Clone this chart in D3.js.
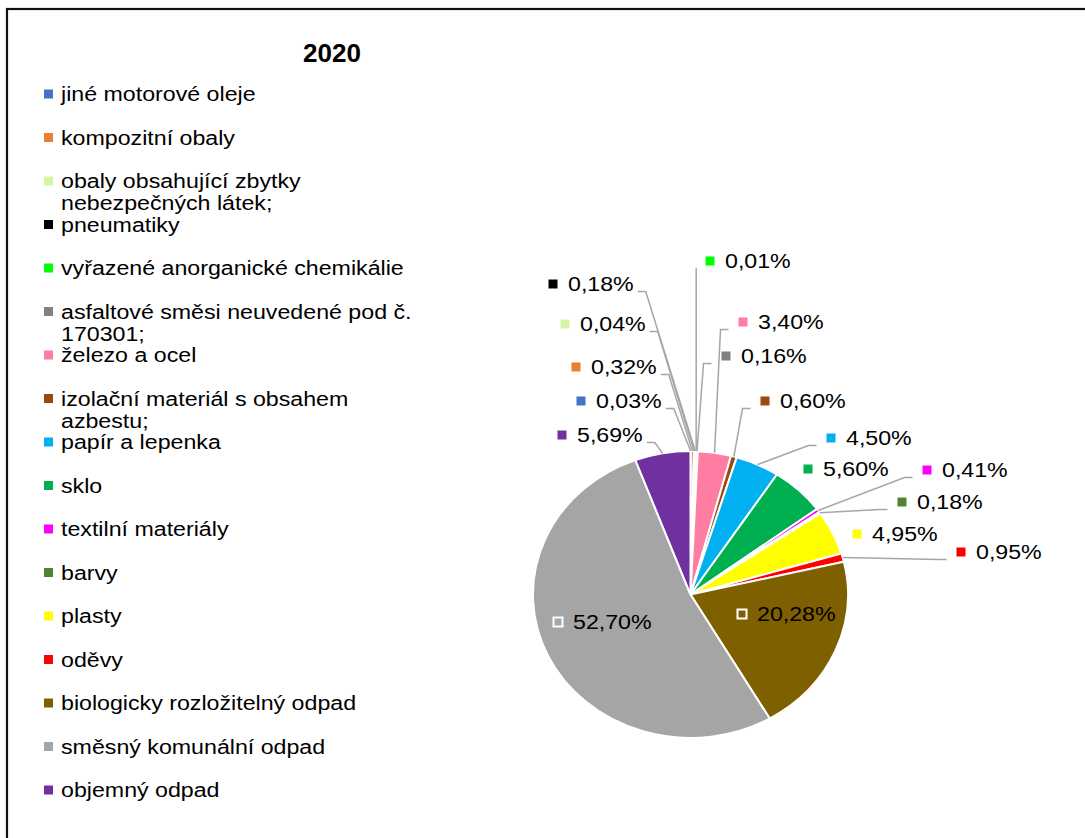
<!DOCTYPE html>
<html>
<head>
<meta charset="utf-8">
<script src="https://cdn.jsdelivr.net/npm/d3@7"></script>
<style>
  html, body { margin: 0; padding: 0; background: #fff; }
  svg { display: block; }
  text { font-family: "Liberation Sans", Arial, sans-serif; fill: #000; }
</style>
</head>
<body>
<svg id="chart" width="1085" height="838"></svg>
<script>
// ---- data ----
const title = "2020";
const categories = [
  "jiné motorové oleje",
  "kompozitní obaly",
  "obaly obsahující zbytky nebezpečných látek;",
  "pneumatiky",
  "vyřazené anorganické chemikálie",
  "asfaltové směsi neuvedené pod č. 170301;",
  "železo a ocel",
  "izolační materiál s obsahem azbestu;",
  "papír a lepenka",
  "sklo",
  "textilní materiály",
  "barvy",
  "plasty",
  "oděvy",
  "biologicky rozložitelný odpad",
  "směsný komunální odpad",
  "objemný odpad"
];
const values = [0.03, 0.32, 0.04, 0.18, 0.01, 0.16, 3.40, 0.60, 4.50, 5.60, 0.41, 0.18, 4.95, 0.95, 20.28, 52.70, 5.69];
const colors = ["#4472C4", "#ED7D31", "#D7F5A0", "#000000", "#00FF00", "#808080", "#FF7CA3", "#9E480E",
                "#00B0F0", "#00B050", "#FF00FF", "#548235", "#FFFF00", "#FF0000", "#7F6000", "#A5A5A5", "#7030A0"];

// ---- layout (label key positions; side = where the leader line leaves) ----
const labelPos = [
  {x: 581, y: 401, side: "left"},
  {x: 576, y: 367, side: "left"},
  {x: 565, y: 324, side: "left"},
  {x: 553, y: 284, side: "left"},
  {x: 710, y: 261, side: "right"},
  {x: 726, y: 356, side: "right"},
  {x: 743, y: 322, side: "right"},
  {x: 765, y: 401, side: "right"},
  {x: 831, y: 438, side: "right"},
  {x: 808, y: 469, side: "none"},
  {x: 927, y: 470, side: "right"},
  {x: 902, y: 502, side: "right"},
  {x: 857, y: 534, side: "none"},
  {x: 961, y: 552, side: "right"},
  {x: 742, y: 614, side: "inside"},
  {x: 558, y: 622, side: "inside"},
  {x: 562, y: 435, side: "left"}
];

const svg = d3.select("#chart");
const SX = 1.16;          // horizontal text stretch of the reference
const FS = 20;            // font size

// frame
svg.append("rect").attr("x", 7).attr("y", 9).attr("width", 1200).attr("height", 1000)
  .attr("fill", "none").attr("stroke", "#111").attr("stroke-width", 2.2);

// title
svg.append("text").attr("x", 332).attr("y", 62).attr("text-anchor", "middle")
  .style("font-size", "26px").style("font-weight", "bold").text(title);

// ---- legend ----
const legendY = d3.scalePoint().domain(d3.range(categories.length)).range([94, 790]);
const legend = svg.append("g");
categories.forEach((name, i) => {
  const cy = legendY(i);
  legend.append("rect").attr("x", 44).attr("y", cy - 4.5).attr("width", 9).attr("height", 9).attr("fill", colors[i]);
  const g = legend.append("g").attr("transform", `translate(61,${cy + 7}) scale(${SX},1)`);
  const t = g.append("text").style("font-size", FS + "px");
  const words = name.split(" ");
  const maxW = 360 / SX;
  let line = [];
  let tspan = t.append("tspan").attr("x", 0).attr("dy", 0);
  words.forEach(w => {
    line.push(w);
    tspan.text(line.join(" "));
    if (tspan.node().getComputedTextLength() > maxW && line.length > 1) {
      line.pop();
      tspan.text(line.join(" "));
      line = [w];
      tspan = t.append("tspan").attr("x", 0).attr("dy", 22.5).text(w);
    }
  });
});

// ---- pie ----
const cx = 690.5, cy = 594.5, ry = 143.5, rx = 157.5;
const pie = d3.pie().sort(null).value(d => d).startAngle(0).endAngle(2 * Math.PI);
const arcs = pie(values);
const arc = d3.arc().innerRadius(0).outerRadius(ry);

svg.append("g").attr("transform", `translate(${cx},${cy}) scale(${rx / ry},1)`)
  .selectAll("path").data(arcs).join("path")
  .attr("d", arc)
  .attr("fill", (d, i) => colors[i])
  .attr("stroke", "#fff").attr("stroke-width", 2)
  .attr("vector-effect", "non-scaling-stroke");

// ---- labels ----
const fmt = d3.formatLocale({decimal: ",", thousands: " ", grouping: [3], currency: ["", ""]}).format(".2f");
const leaders = svg.append("g");
const labels = svg.append("g");

arcs.forEach((a, i) => {
  const p = labelPos[i];
  const inside = p.side === "inside";
  labels.append("rect").attr("x", p.x - 4.5).attr("y", p.y - 4.5).attr("width", 9).attr("height", 9)
    .attr("fill", colors[i])
    .attr("stroke", inside ? "#fff" : "none").attr("stroke-width", inside ? 2 : 0);
  const g = labels.append("g").attr("transform", `translate(${p.x + 15},${p.y + 7}) scale(${SX},1)`);
  const t = g.append("text").style("font-size", FS + "px").text(fmt(a.value) + "%");
  const textW = t.node().getComputedTextLength() * SX;

  if (p.side === "left" || p.side === "right") {
    const mid = (a.startAngle + a.endAngle) / 2;
    const ex = cx + rx * Math.sin(mid), ey = cy - ry * Math.cos(mid);
    const ly = p.y + 7.5;
    let pts;
    if (p.side === "left") {
      const sx = p.x + 15 + textW + 4;
      const hx = Math.min(sx + 8, ex);
      pts = [[sx, ly], [hx, ly], [ex, ey]];
    } else {
      const sx = p.x - 4.5 - 10;
      const hx = Math.max(sx - 8, ex);
      pts = [[sx, ly], [hx, ly], [ex, ey]];
    }
    leaders.append("path").attr("d", d3.line()(pts))
      .attr("fill", "none").attr("stroke", "#A6A6A6").attr("stroke-width", 1.5);
  }
});
</script>
</body>
</html>
